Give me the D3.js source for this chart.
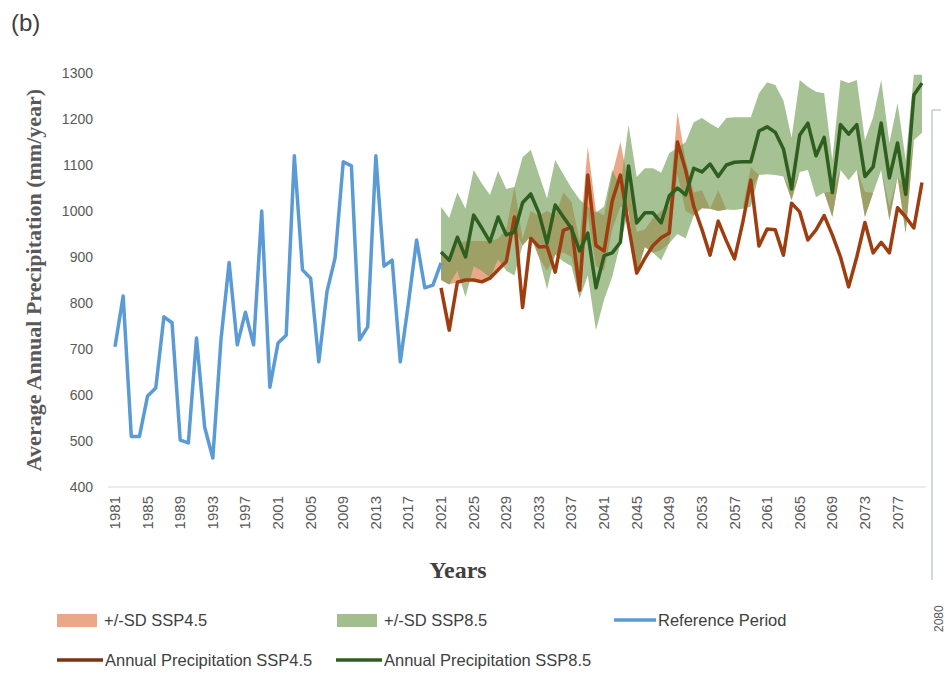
<!DOCTYPE html>
<html>
<head>
<meta charset="utf-8">
<script src="https://cdn.jsdelivr.net/npm/d3@7"></script>
<style>
  body { margin: 0; background: #fff; }
</style>
</head>
<body>
<svg id="chart" width="946" height="675" font-family="Liberation Sans, Arial, sans-serif"></svg>
<script>
const width = 946,
	height = 675;

// reference period 1981-2021
const refYears = d3.range(1981, 2022);
const refValues = [705, 815, 510, 510, 598, 615, 770, 757, 502, 496,
	724, 530, 463, 720, 888, 709, 780, 709, 1000, 617,
	713, 730, 1120, 872, 854, 672, 824, 898, 1107, 1098,
	720, 748, 1120, 880, 893, 672, 800, 937, 833, 839, 887];

// projections 2021-2080
const projYears = d3.range(2021, 2081);
const ssp45 = [833, 741, 845, 850, 850, 846, 854, 872, 890, 987,
	790, 941, 922, 923, 867, 958, 965, 828, 1078, 925,
	913, 1022, 1078, 968, 865, 897, 925, 942, 952, 1150,
	1089, 1010, 960, 904, 978, 935, 896, 974, 1067, 924,
	961, 959, 904, 1017, 998, 937, 959, 990, 948, 900,
	835, 900, 975, 909, 932, 909, 1007, 987, 963, 1062];
const ssp85 = [911, 893, 943, 900, 991, 963, 933, 987, 948, 954,
	1018, 1037, 996, 930, 1013, 987, 962, 913, 952, 833,
	903, 909, 932, 1098, 974, 996, 996, 974, 1033, 1050,
	1035, 1093, 1085, 1102, 1075, 1100, 1106, 1107, 1107, 1174,
	1183, 1171, 1135, 1048, 1165, 1191, 1120, 1160, 1040, 1188,
	1167, 1188, 1075, 1096, 1191, 1072, 1148, 1036, 1252, 1278];

// +/- SD envelopes
const sd85Hi = [1009, 985, 1040, 1005, 1089, 1060, 1035, 1087, 1048, 1052,
	1117, 1133, 1080, 1027, 1111, 1080, 1050, 1025, 1009, 996,
	1010, 1089, 1052, 1187, 1074, 1093, 1093, 1083, 1126, 1137,
	1150, 1193, 1202, 1190, 1180, 1202, 1204, 1204, 1204, 1256,
	1280, 1274, 1240, 1159, 1285, 1270, 1259, 1256, 1111, 1285,
	1278, 1285, 1154, 1204, 1285, 1148, 1235, 1111, 1296, 1296];
const sd85Lo = [850, 840, 870, 813, 880, 870, 855, 895, 870, 860,
	925, 945, 900, 830, 905, 890, 880, 810, 860, 741,
	807, 857, 930, 1000, 860, 922, 909, 893, 930, 950,
	940, 990, 1006, 1005, 1000, 1003, 1002, 1005, 1009, 1078,
	1080, 1078, 1075, 1024, 1085, 1089, 1030, 1040, 987, 1089,
	1067, 1089, 987, 1039, 1089, 980, 1074, 952, 1154, 1170];
const sd45Hi = [905, 900, 930, 935, 935, 935, 935, 940, 960, 1052,
	940, 1000, 990, 1000, 990, 1040, 1020, 935, 1140, 1000,
	990, 1080, 1150, 1060, 955, 960, 985, 1000, 1010, 1215,
	1110, 1040, 1045, 1005, 1045, 1003, 1002, 1005, 1095, 1078,
	1080, 1078, 1075, 1042, 1085, 1089, 1030, 1040, 1042, 1089,
	1067, 1089, 1042, 1039, 1089, 1010, 1074, 1052, 1154, 1170];
const sd45Lo = [850, 840, 845, 850, 850, 846, 854, 870, 885, 960,
	925, 945, 900, 870, 905, 910, 900, 815, 990, 880,
	870, 960, 1010, 1000, 865, 922, 909, 915, 930, 1080,
	1000, 990, 1006, 1005, 1000, 1003, 1002, 1005, 1040, 1078,
	1080, 1078, 1075, 1024, 1085, 1089, 1030, 1040, 987, 1089,
	1067, 1089, 987, 1039, 1089, 980, 1074, 952, 1154, 1170];

const xTicks = d3.range(1981, 2078, 4);
const yTicks = d3.range(400, 1301, 100);

const xScale = d3.scaleLinear()
	.domain([1981, 2080])
	.range([115, 922]);

const yScale = d3.scaleLinear()
	.domain([400, 1300])
	.range([487, 73]);

const line = d3.line()
	.x(d => xScale(d.x))
	.y(d => yScale(d.y));

const area = d3.area()
	.x(d => xScale(d.x))
	.y0(d => yScale(d.lo))
	.y1(d => yScale(d.hi));

const chart = d3.select("#chart");

const pts = (xs, ys) => xs.map((x, i) => ({x: x, y: ys[i]}));
const band = (lo, hi) => projYears.map((x, i) => ({x: x, lo: lo[i], hi: hi[i]}));

// baseline
chart.append("line")
	.attr("x1", 108).attr("x2", 926)
	.attr("y1", yScale(400)).attr("y2", yScale(400))
	.attr("stroke", "#d9d9d9")
	.attr("stroke-width", 1);

// y tick labels
chart.selectAll("text.ytick")
	.data(yTicks)
	.join("text")
	.attr("class", "ytick")
	.attr("x", 93)
	.attr("y", d => yScale(d) + 5)
	.attr("text-anchor", "end")
	.attr("font-size", 14)
	.attr("fill", "#595959")
	.text(d => d);

// x tick labels
chart.selectAll("text.xtick")
	.data(xTicks)
	.join("text")
	.attr("class", "xtick")
	.attr("transform", d => `translate(${xScale(d) + 5},${yScale(400) + 9}) rotate(-90)`)
	.attr("text-anchor", "end")
	.attr("font-size", 15)
	.attr("fill", "#595959")
	.text(d => d);

// bands
chart.append("path")
	.datum(band(sd45Lo, sd45Hi))
	.attr("fill", "#e9a887")
	.attr("d", area);

chart.append("path")
	.datum(band(sd85Lo, sd85Hi))
	.attr("fill", "rgb(112,155,82)")
	.attr("fill-opacity", 0.62)
	.attr("d", area);

// lines
chart.append("path")
	.datum(pts(refYears, refValues))
	.attr("fill", "none")
	.attr("stroke", "#5b9bd5")
	.attr("stroke-width", 3.5)
	.attr("stroke-linejoin", "round")
	.attr("d", line);

chart.append("path")
	.datum(pts(projYears, ssp45))
	.attr("fill", "none")
	.attr("stroke", "#9e3d10")
	.attr("stroke-width", 3.5)
	.attr("stroke-linejoin", "round")
	.attr("d", line);

chart.append("path")
	.datum(pts(projYears, ssp85))
	.attr("fill", "none")
	.attr("stroke", "#2f5f1f")
	.attr("stroke-width", 3.5)
	.attr("stroke-linejoin", "round")
	.attr("d", line);

// titles
chart.append("text")
	.attr("x", 11).attr("y", 31)
	.attr("font-size", 24)
	.attr("fill", "#404040")
	.text("(b)");

chart.append("text")
	.attr("transform", `translate(41,${(yScale(400) + yScale(1300)) / 2}) rotate(-90)`)
	.attr("text-anchor", "middle")
	.attr("font-family", "Liberation Serif, Times New Roman, serif")
	.attr("font-weight", "bold")
	.attr("font-size", 22)
	.attr("fill", "#595959")
	.text("Average Annual Precipitation (mm/year)");

chart.append("text")
	.attr("x", 458).attr("y", 578)
	.attr("text-anchor", "middle")
	.attr("font-family", "Liberation Serif, Times New Roman, serif")
	.attr("font-weight", "bold")
	.attr("font-size", 24)
	.attr("fill", "#404040")
	.text("Years");

// stray edge of the neighbouring panel
chart.append("path")
	.attr("d", "M932,110H941M932,110V580")
	.attr("fill", "none")
	.attr("stroke", "#c5cbd6")
	.attr("stroke-width", 1.5);

chart.append("text")
	.attr("transform", "translate(943,632) rotate(-90)")
	.attr("font-size", 12)
	.attr("fill", "#595959")
	.text("2080");

// legend
const legendItems = [
	{label: "+/-SD SSP4.5", kind: "rect", color: "#e9a887", x: 57, y: 620},
	{label: "+/-SD SSP8.5", kind: "rect", color: "#a1be8c", x: 337, y: 620},
	{label: "Reference Period", kind: "line", color: "#5b9bd5", x: 614, y: 620},
	{label: "Annual Precipitation SSP4.5", kind: "line", color: "#7a3210", x: 57, y: 660},
	{label: "Annual Precipitation SSP8.5", kind: "line", color: "#2f5f1f", x: 336, y: 660}
];

const legend = chart.selectAll("g.legend")
	.data(legendItems)
	.join("g")
	.attr("class", "legend")
	.attr("transform", d => `translate(${d.x},${d.y})`);

legend.filter(d => d.kind === "rect")
	.append("rect")
	.attr("x", 0).attr("y", -6)
	.attr("width", 40).attr("height", 13)
	.attr("fill", d => d.color);

legend.filter(d => d.kind === "line")
	.append("line")
	.attr("x1", 0).attr("x2", d => d.label === "Reference Period" ? 42 : 46)
	.attr("y1", 0).attr("y2", 0)
	.attr("stroke", d => d.color)
	.attr("stroke-width", 3.5);

legend.append("text")
	.attr("x", d => d.kind === "rect" ? 47 : (d.label === "Reference Period" ? 44 : 48))
	.attr("y", 6)
	.attr("font-size", 16.5)
	.attr("fill", "#404040")
	.text(d => d.label);
</script>
</body>
</html>
